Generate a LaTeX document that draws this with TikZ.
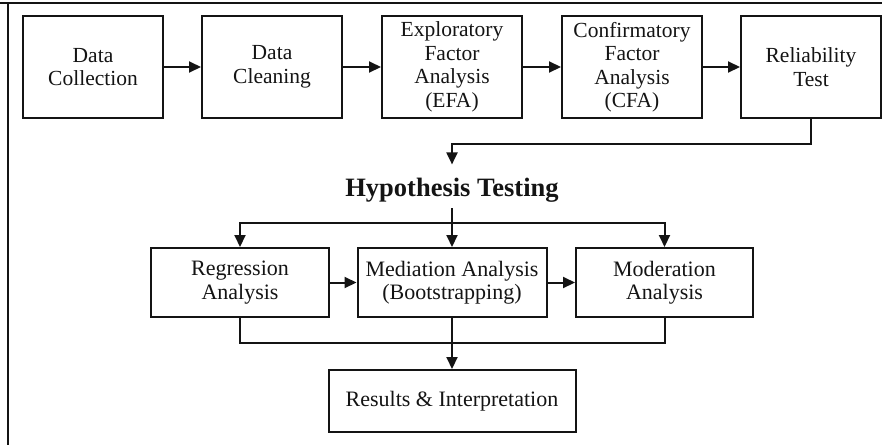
\documentclass[tikz,border=0pt]{standalone}
\usepackage{fontspec}
\setmainfont{Liberation Serif}
\usetikzlibrary{arrows.meta, positioning}
\definecolor{FlowInk}{HTML}{141414}
\definecolor{FlowPaper}{HTML}{FFFFFF}
\tikzset{
    stagebox/.style={draw=FlowInk, line width=2pt, align=center, inner sep=2pt, text=FlowInk,
        minimum width=140pt, minimum height=102pt, font=\fontsize{21.5}{23.5}\selectfont},
    testbox/.style={stagebox, minimum height=69pt, font=\fontsize{22}{23.5}\selectfont},
    link/.style={FlowInk, line width=2pt},
    flow/.style={link, -{Triangle[length=12pt, width=11pt]}},
}

\begin{document}
\begin{tikzpicture}[x=1pt, y=-1pt]
    
    % Background
    \fill[FlowPaper] (0,0) rectangle (882,445);
    \useasboundingbox (0,0) rectangle (882,445);
    \draw[link, line width=1.4pt] (0,3) -- (882,3);
    \draw[link, line width=1.4pt] (8,3) -- (8,445);
    
    % Preparation stages
    \node[stagebox] (collect) at (93,67) {Data\\Collection};
    \node[stagebox] (clean) at (272,67) {Data\\Cleaning};
    \node[stagebox] (efa) at (452,67) {Exploratory\\Factor\\Analysis\\(EFA)};
    \node[stagebox] (cfa) at (632,67) {Confirmatory\\Factor\\Analysis\\(CFA)};
    \node[stagebox] (reliab) at (811,67) {Reliability\\Test};
    \draw[flow] (collect) -- (clean);
    \draw[flow] (clean) -- (efa);
    \draw[flow] (efa) -- (cfa);
    \draw[flow] (cfa) -- (reliab);
    
    % Hypothesis testing
    \node[anchor=base, inner sep=0pt, text=FlowInk, font=\fontsize{26.5}{30}\selectfont\bfseries]
        (hyp) at (452,196) {Hypothesis Testing};
    \draw[flow] (reliab.south) -- ++(0,25) -| ([yshift=13pt]hyp.north);
    
    \node[testbox, minimum width=178pt] (regress) at (240,282.5) {Regression\\Analysis};
    \node[testbox, minimum width=189pt] (mediate) at (452,282.5) {Mediation Analysis\\(Bootstrapping)};
    \node[testbox, minimum width=177pt] (moderate) at (664.5,282.5) {Moderation\\Analysis};
    \coordinate (fanout) at (452,223);
    \coordinate (gather) at (452,343);
    
    \draw[link] ([yshift=-6pt]hyp.south) -- (fanout);
    \draw[flow] (fanout) -- (mediate.north);
    \draw[flow] (fanout) -| (regress.north);
    \draw[flow] (fanout) -| (moderate.north);
    \draw[flow] (regress) -- (mediate);
    \draw[flow] (mediate) -- (moderate);
    
    % Results
    \node[testbox, minimum width=247pt, minimum height=62pt] (results) at (452,401) {Results \& Interpretation};
    \draw[link] (regress.south) |- (gather);
    \draw[link] (moderate.south) |- (gather);
    \draw[flow] (mediate.south) -- (results.north);
    
\end{tikzpicture}
\end{document}
